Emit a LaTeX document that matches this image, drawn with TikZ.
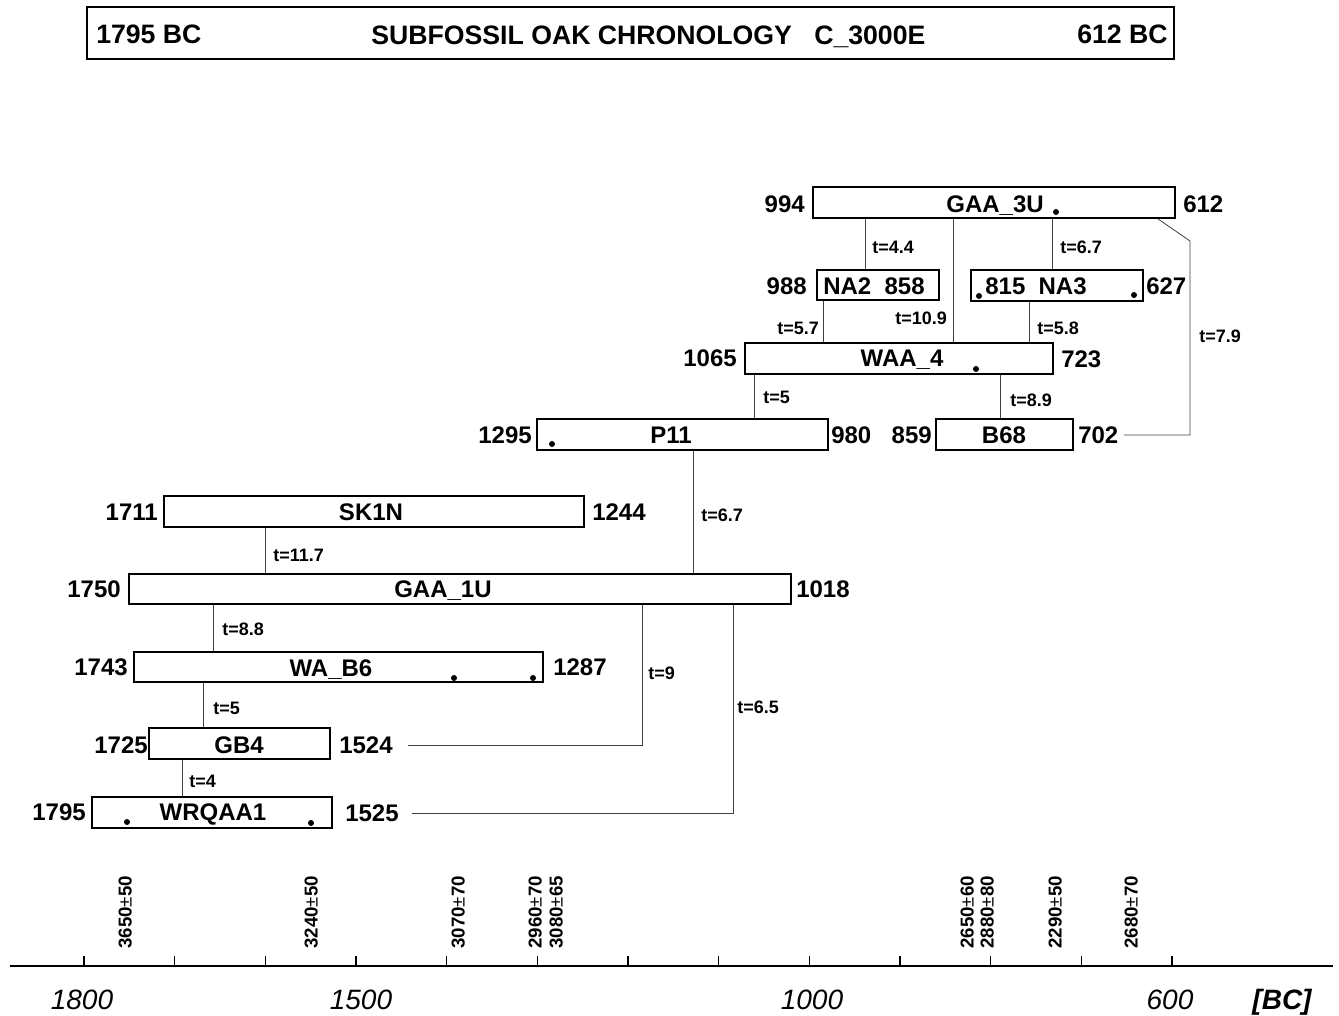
\documentclass[tikz,border=0pt]{standalone}
\usepackage{fontspec}
\setmainfont{Liberation Sans}
\usetikzlibrary{fit}
\begin{document}
\begin{tikzpicture}[x=0.75pt,y=-0.75pt,
  box/.style={draw, line width=1.4pt, inner sep=0pt},
  lbl/.style={font=\bfseries\fontsize{18}{18}\selectfont, inner sep=0pt, text height=12.9pt, text depth=0pt},
  ttl/.style={font=\bfseries\fontsize{20}{21}\selectfont, inner sep=0pt, text height=14.3pt, text depth=0pt},
  tl/.style={font=\bfseries\fontsize{13.5}{14}\selectfont, inner sep=0pt, text height=9.7pt, text depth=0pt, anchor=west},
  rl/.style={font=\bfseries\fontsize{14}{15}\selectfont, inner sep=0pt, text height=10pt, text depth=0pt, rotate=90, anchor=west},
  ax/.style={font=\itshape\fontsize{21}{22}\selectfont, inner sep=0pt, text height=15pt, text depth=0pt},
  conn/.style={line width=0.6pt, draw=black!75},
  dotc/.style={circle, fill, inner sep=0pt, minimum size=4.5pt},
  tick/.style={line width=1pt}]
\useasboundingbox (0,0) rectangle (1339,1016);

% title
\node[box, fit={(87,7)(1174,59)}] (title) {};
\node[ttl, anchor=west] (tleft) at (96,34) {1795 BC};
\node[ttl, anchor=west] (tmid) at (371,35) {SUBFOSSIL OAK CHRONOLOGY~~~C\_3000E};
\node[ttl, anchor=east] (tright) at (1168,34) {612 BC};

% boxes
\node[box, fit={(813,187)(1175,218)}] (gaa3u) {};
\node[lbl] (gaa3u-l) at (995,204) {GAA\_3U};
\node[lbl, anchor=east] (gaa3u-a) at (805,204) {994};
\node[lbl, anchor=west] (gaa3u-b) at (1183,204) {612};
\node[dotc] (gaa3u-d) at (1056,212) {};

\node[box, fit={(817,270)(939,300)}] (na2) {};
\node[lbl] (na2-l) at (874,286) {NA2\ \ 858};
\node[lbl, anchor=east] (na2-a) at (807,286) {988};

\node[box, fit={(971,270)(1143,301)}] (na3) {};
\node[lbl] (na3-l) at (1036,286) {815\ \ NA3};
\node[lbl, anchor=west] (na3-b) at (1146,286) {627};
\node[dotc] (na3-d1) at (979,296) {};
\node[dotc] (na3-d2) at (1134,295) {};

\node[box, fit={(745,343)(1053,374)}] (waa4) {};
\node[lbl] (waa4-l) at (902,358) {WAA\_4};
\node[lbl, anchor=east] (waa4-a) at (737,358) {1065};
\node[lbl, anchor=west] (waa4-b) at (1061,359) {723};
\node[dotc] (waa4-d) at (976,369) {};

\node[box, fit={(537,419)(828,450)}] (p11) {};
\node[lbl] (p11-l) at (671,435) {P11};
\node[lbl, anchor=east] (p11-a) at (532,435) {1295};
\node[lbl, anchor=west] (p11-b) at (831,435) {980};
\node[dotc] (p11-d) at (552,444) {};

\node[box, fit={(936,419)(1073,450)}] (b68) {};
\node[lbl] (b68-l) at (1004,435) {B68};
\node[lbl, anchor=east] (b68-a) at (932,435) {859};
\node[lbl, anchor=west] (b68-b) at (1078,435) {702};

\node[box, fit={(164,496)(584,527)}] (sk1n) {};
\node[lbl] (sk1n-l) at (371,512) {SK1N};
\node[lbl, anchor=east] (sk1n-a) at (158,512) {1711};
\node[lbl, anchor=west] (sk1n-b) at (592,512) {1244};

\node[box, fit={(129,574)(791,604)}] (gaa1u) {};
\node[lbl] (gaa1u-l) at (443,589) {GAA\_1U};
\node[lbl, anchor=east] (gaa1u-a) at (121,589) {1750};
\node[lbl, anchor=west] (gaa1u-b) at (796,589) {1018};

\node[box, fit={(134,652)(543,682)}] (wab6) {};
\node[lbl] (wab6-l) at (331,668) {WA\_B6};
\node[lbl, anchor=east] (wab6-a) at (128,667) {1743};
\node[lbl, anchor=west] (wab6-b) at (553,667) {1287};
\node[dotc] (wab6-d1) at (454,678) {};
\node[dotc] (wab6-d2) at (533,678) {};

\node[box, fit={(149,728)(330,759)}] (gb4) {};
\node[lbl] (gb4-l) at (239,745) {GB4};
\node[lbl, anchor=east] (gb4-a) at (148,745) {1725};
\node[lbl, anchor=west] (gb4-b) at (339,745) {1524};

\node[box, fit={(92,797)(332,828)}] (wrq) {};
\node[lbl] (wrq-l) at (213,812) {WRQAA1};
\node[lbl, anchor=east] (wrq-a) at (86,812) {1795};
\node[lbl, anchor=west] (wrq-b) at (345,813) {1525};
\node[dotc] (wrq-d1) at (127,822) {};
\node[dotc] (wrq-d2) at (311,823) {};

% connectors
\draw[conn] (gaa3u.south -| 865,0) -- (na2.north -| 865,0);
\draw[conn] (gaa3u.south -| 953,0) -- (waa4.north -| 953,0);
\draw[conn] (gaa3u.south -| 1052,0) -- (na3.north -| 1052,0);
\coordinate (bend) at (1190,241);
\draw[conn] (gaa3u.south -| 1158,0) -- (bend) |- ([xshift=4pt]b68-b.east);
\draw[conn] (na2.south -| 823,0) -- (waa4.north -| 823,0);
\draw[conn] (na3.south -| 1029,0) -- (waa4.north -| 1029,0);
\draw[conn] (waa4.south -| 754,0) -- (p11.north -| 754,0);
\draw[conn] (waa4.south -| 1000,0) -- (b68.north -| 1000,0);
\draw[conn] (p11.south -| 693,0) -- (gaa1u.north -| 693,0);
\draw[conn] (sk1n.south -| 265,0) -- (gaa1u.north -| 265,0);
\draw[conn] (gaa1u.south -| 213,0) -- (wab6.north -| 213,0);
\draw[conn] (gaa1u.south -| 642,0) |- ([xshift=11pt]gb4-b.east);
\draw[conn] (gaa1u.south -| 733,0) |- ([xshift=10pt]wrq-b.east);
\draw[conn] (wab6.south -| 203,0) -- (gb4.north -| 203,0);
\draw[conn] (gb4.south -| 182,0) -- (wrq.north -| 182,0);

% t labels
\node[tl] (t1) at (872,247) {t=4.4};
\node[tl] (t2) at (1060,247) {t=6.7};
\node[tl] (t3) at (777,328) {t=5.7};
\node[tl] (t4) at (895,318) {t=10.9};
\node[tl] (t5) at (1037,328) {t=5.8};
\node[tl] (t6) at (1199,336) {t=7.9};
\node[tl] (t7) at (763,397) {t=5};
\node[tl] (t8) at (1010,400) {t=8.9};
\node[tl] (t9) at (701,515) {t=6.7};
\node[tl] (t10) at (273,555) {t=11.7};
\node[tl] (t11) at (222,629) {t=8.8};
\node[tl] (t12) at (648,673) {t=9};
\node[tl] (t13) at (737,707) {t=6.5};
\node[tl] (t14) at (213,708) {t=5};
\node[tl] (t15) at (189,781) {t=4};

% axis
\coordinate (axL) at (10,966);
\coordinate (axR) at (1333,966);
\draw[line width=2pt] (axL) -- (axR);
\foreach \i in {0,...,12} {
  \draw[tick] ({84+\i*90.67},966) -- ({84+\i*90.67},956);
}
\node[ax] (x1800) at (82,999) {1800};
\node[ax] (x1500) at (361,999) {1500};
\node[ax] (x1000) at (812,999) {1000};
\node[ax] (x600) at (1170,999) {600};
\node[ax, font=\bfseries\itshape\fontsize{21}{22}\selectfont] (xbc) at (1282,999) {[BC]};

% radiocarbon dates
\node[rl] (r1) at (125,949) {3650{\mdseries±}50};
\node[rl] (r2) at (311,949) {3240{\mdseries±}50};
\node[rl] (r3) at (458,949) {3070{\mdseries±}70};
\node[rl] (r4) at (535,949) {2960{\mdseries±}70};
\node[rl] (r5) at (556,949) {3080{\mdseries±}65};
\node[rl] (r6) at (967,949) {2650{\mdseries±}60};
\node[rl] (r7) at (987,949) {2880{\mdseries±}80};
\node[rl] (r8) at (1055,949) {2290{\mdseries±}50};
\node[rl] (r9) at (1131,949) {2680{\mdseries±}70};
\end{tikzpicture}
\end{document}
